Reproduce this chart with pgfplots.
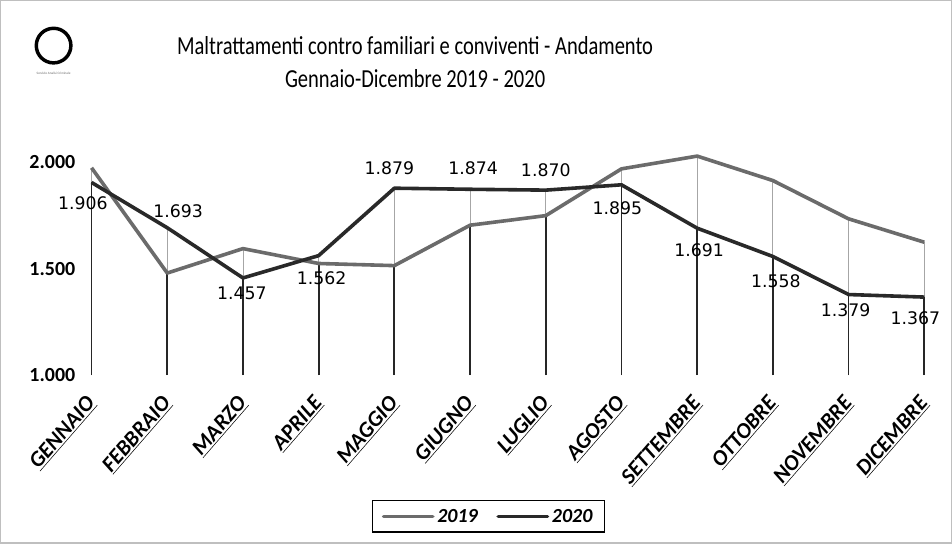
\documentclass[border=0pt]{standalone}
\usepackage{fontspec}
\setmainfont{Carlito}
\newfontfamily\lblfam{DejaVu Sans}
\usepackage{graphicx}
\usepackage{pgfplots}
\pgfplotsset{compat=1.18}
\definecolor{cA}{gray}{0.42}
\definecolor{cB}{gray}{0.16}
\newcommand{\ml}[1]{\underline{#1}}
\begin{document}
\begin{tikzpicture}
\path[fill=white, draw=black!25, line width=1pt] (0,0) rectangle (714pt,407.25pt);
% logo
\draw[line width=2.6pt] (39.75pt,373.5pt) circle (13pt);
\node[font=\fontsize{2.5}{3}\selectfont, text=black!60] at (39.75pt,353pt) {Servizio Analisi Criminale};
% title
\node[inner sep=0pt] at (311.25pt,373.5pt) {\scalebox{0.79}[1]{\fontsize{19.5}{23}\selectfont Maltrattamenti contro familiari e conviventi - Andamento}};
\node[inner sep=0pt] at (311.25pt,348.75pt) {\scalebox{0.79}[1]{\fontsize{19.5}{23}\selectfont Gennaio-Dicembre 2019 - 2020}};
\begin{axis}[
  scale only axis,
  width=636.8pt, height=167.7pt,
  at={(62.57pt,126pt)}, anchor=south west,
  xmin=-0.1, xmax=11.1,
  ymin=1000, ymax=2050,
  axis line style={draw=none},
  major tick length=0pt,
  xtick={0,...,11},
  xticklabels={\ml{GENNAIO},\ml{FEBBRAIO},\ml{MARZO},\ml{APRILE},\ml{MAGGIO},\ml{GIUGNO},\ml{LUGLIO},\ml{AGOSTO},\ml{SETTEMBRE},\ml{OTTOBRE},\ml{NOVEMBRE},\ml{DICEMBRE}},
  xticklabel style={xshift=0.7pt, yshift=-17.8pt, rotate=49, anchor=east, inner sep=1pt, font=\fontsize{16.5}{18}\selectfont\bfseries\itshape},
  ytick={1000,1500,2000},
  yticklabel style={font=\fontsize{15}{17}\selectfont\bfseries, /pgf/number format/assume math mode=true, /pgf/number format/1000 sep={.}, xshift=-3pt},
  legend columns=2,
  legend style={at={(0.477,-0.633)}, anchor=center, draw=black, line width=0.8pt, font=\fontsize{15}{17}\selectfont\bfseries\itshape, inner xsep=7pt, inner ysep=4pt, /tikz/every even column/.append style={column sep=12pt}},
  legend image code/.code={\draw[#1, line cap=round] (0pt,0pt) -- (37pt,0pt);},
]
\addplot[ycomb, draw=black!35, line width=0.6pt, forget plot] coordinates {
(0,1975) (1,1693) (2,1595) (3,1562) (4,1879) (5,1874) (6,1870) (7,1970) (8,2030) (9,1915) (10,1735) (11,1625)};
\addplot[ycomb, draw=black!85, line width=1.3pt, forget plot] coordinates {
(0,1906) (1,1480) (2,1457) (3,1525) (4,1515) (5,1705) (6,1750) (7,1895) (8,1691) (9,1558) (10,1379) (11,1367)};
\addplot[cA, line width=2.7pt, line join=round] coordinates {
(0,1975) (1,1480) (2,1595) (3,1525) (4,1515) (5,1705) (6,1750) (7,1970) (8,2030) (9,1915) (10,1735) (11,1625)};
\addlegendentry{2019}
\addplot[cB, line width=2.7pt, line join=round,
  nodes near coords={\pgfplotspointmeta},
  point meta=explicit symbolic,
  visualization depends on={\thisrow{dx} \as \lbldx},
  visualization depends on={\thisrow{dy} \as \lbldy},
  every node near coord/.append style={anchor=center, xshift=\lbldx pt, yshift=\lbldy pt, text=black, font=\lblfam\fontsize{13}{15}\selectfont}]
  table[x=x, y=y, meta=lbl] {
x y lbl dx dy
0 1906 1.906 -6.5 -15.75
1 1693 1.693 8.25 12.75
2 1457 1.457 -0.75 -11.25
3 1562 1.562 2.25 -17.25
4 1879 1.879 -3.75 15
5 1874 1.874 2.25 15.75
6 1870 1.870 0 15
7 1895 1.895 -3 -17.25
8 1691 1.691 1.5 -16.5
9 1558 1.558 2.25 -18.75
10 1379 1.379 -2.25 -12
11 1367 1.367 -6.75 -15.75
};
\addlegendentry{2020}
\end{axis}
\end{tikzpicture}
\end{document}
